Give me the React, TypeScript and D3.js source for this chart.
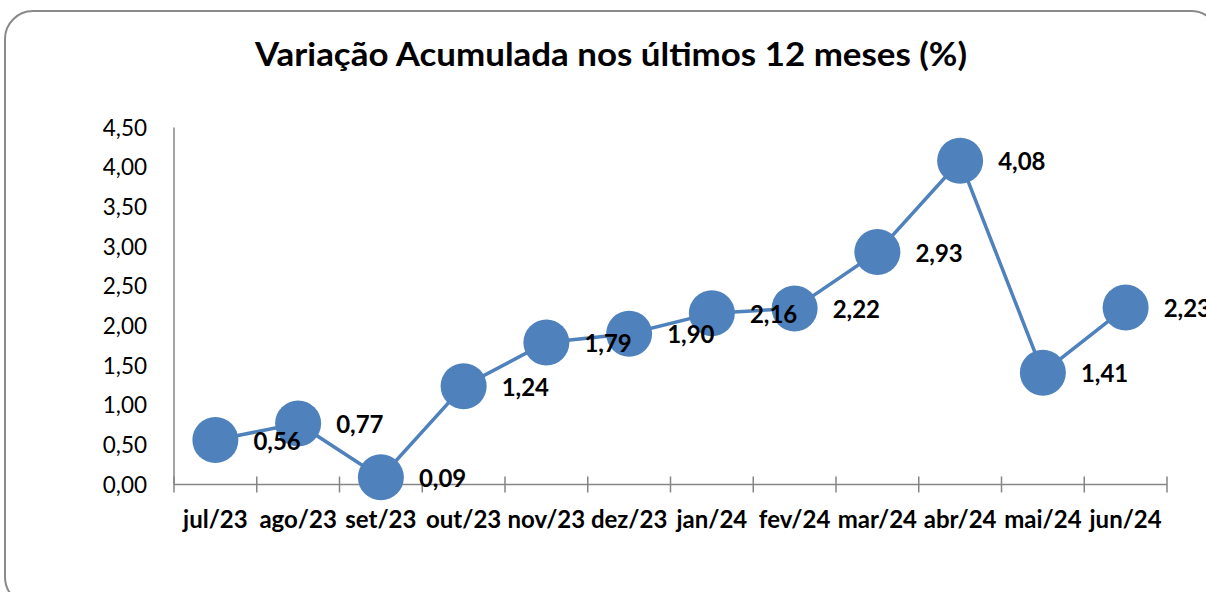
import React, { useEffect, useRef } from 'react';
import * as d3 from 'd3';

const months = ['jul/23', 'ago/23', 'set/23', 'out/23', 'nov/23', 'dez/23', 'jan/24', 'fev/24', 'mar/24', 'abr/24', 'mai/24', 'jun/24'];
const values = [0.56, 0.77, 0.09, 1.24, 1.79, 1.90, 2.16, 2.22, 2.93, 4.08, 1.41, 2.23];
const yTicks = [0, 0.5, 1, 1.5, 2, 2.5, 3, 3.5, 4, 4.5];
const title = 'Variação Acumulada nos últimos 12 meses (%)';

const W = 1206;
const H = 592;
const FONT = 'Lato, "Open Sans", sans-serif';
const BLUE = '#4F81BD';
const AXIS = '#868686';

export default function App() {
  const svgRef = useRef<SVGSVGElement | null>(null);

  useEffect(() => {
    const svg = d3.select(svgRef.current);
    svg.selectAll('*').remove();

    // frame of the chart (runs past the window on right and bottom)
    svg.append('rect')
      .attr('x', 5).attr('y', 11)
      .attr('width', 1214).attr('height', 594)
      .attr('rx', 28).attr('ry', 28)
      .attr('fill', 'white')
      .attr('stroke', '#8a8a8a')
      .attr('stroke-width', 2);

    svg.append('text')
      .attr('x', 255).attr('y', 66)
      .attr('textLength', 712)
      .attr('lengthAdjust', 'spacingAndGlyphs')
      .attr('font-family', FONT)
      .attr('font-weight', 700)
      .attr('font-size', 33)
      .attr('fill', '#000')
      .text(title);

    const x = d3.scaleBand<string>().domain(months).range([174, 1167]);
    const y = d3.scaleLinear().domain([0, 4.5]).range([484.5, 127.5]);
    const fmt = (d: number) => d.toFixed(2).replace('.', ',');

    // y axis line + labels
    svg.append('line')
      .attr('x1', 174).attr('x2', 174)
      .attr('y1', y(4.5)).attr('y2', y(0))
      .attr('stroke', AXIS).attr('stroke-width', 1.5);

    svg.append('g')
      .selectAll('text')
      .data(yTicks).enter().append('text')
      .attr('x', 147)
      .attr('y', d => y(d))
      .attr('dy', '0.36em')
      .attr('text-anchor', 'end')
      .attr('font-family', FONT)
      .attr('font-size', 22.5)
      .attr('fill', '#000')
      .text(d => fmt(d));

    // x axis with crossing ticks at band edges
    svg.append('line')
      .attr('x1', 174).attr('x2', 1167)
      .attr('y1', y(0)).attr('y2', y(0))
      .attr('stroke', AXIS).attr('stroke-width', 1.5);

    const edges = months.map(m => x(m) as number).concat([x.range()[1]]);
    svg.append('g')
      .selectAll('line')
      .data(edges).enter().append('line')
      .attr('x1', d => d).attr('x2', d => d)
      .attr('y1', y(0) - 8).attr('y2', y(0) + 8)
      .attr('stroke', AXIS).attr('stroke-width', 1.5);

    svg.append('g')
      .selectAll('text')
      .data(months).enter().append('text')
      .attr('x', d => (x(d) as number) + x.bandwidth() / 2)
      .attr('y', 528)
      .attr('text-anchor', 'middle')
      .attr('font-family', FONT)
      .attr('font-weight', 700)
      .attr('font-size', 24)
      .attr('fill', '#000')
      .text(d => d);

    // series
    const pts = months.map((m, i) => ({ m, v: values[i] }));
    const cx = (d: { m: string }) => (x(d.m) as number) + x.bandwidth() / 2;

    svg.append('path')
      .datum(pts)
      .attr('fill', 'none')
      .attr('stroke', BLUE)
      .attr('stroke-width', 3.5)
      .attr('d', d3.line<{ m: string; v: number }>().x(cx).y(d => y(d.v)));

    svg.append('g')
      .selectAll('circle')
      .data(pts).enter().append('circle')
      .attr('cx', cx)
      .attr('cy', d => y(d.v))
      .attr('r', 23)
      .attr('fill', BLUE);

    svg.append('g')
      .selectAll('text')
      .data(pts).enter().append('text')
      .attr('x', d => cx(d) + 38)
      .attr('y', d => y(d.v) + 1)
      .attr('dy', '0.36em')
      .attr('font-family', FONT)
      .attr('font-weight', 700)
      .attr('font-size', 24)
      .attr('fill', '#000')
      .text(d => fmt(d.v));
  }, []);

  return (
    <div style={{ position: 'fixed', left: 0, top: 0, width: W, height: H, overflow: 'hidden', background: 'white' }}>
      <svg ref={svgRef} width={W} height={H} style={{ display: 'block' }} />
    </div>
  );
}
